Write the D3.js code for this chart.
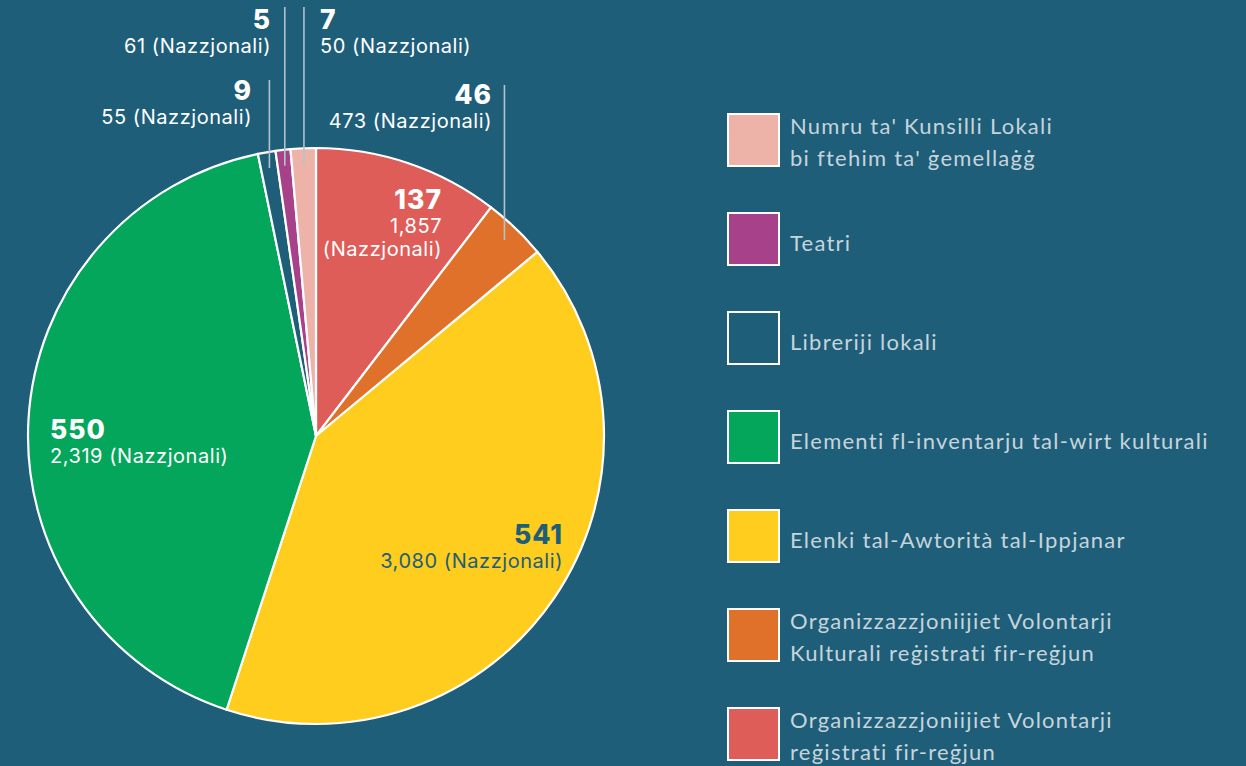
<!DOCTYPE html>
<html>
<head>
<meta charset="utf-8">
<script src="https://cdn.jsdelivr.net/npm/d3@7"></script>
<style>
  html, body { margin: 0; padding: 0; background: #1e5e79; }
  svg { display: block; }
</style>
</head>
<body>
<svg id="chart" width="1246" height="766"></svg>
<script>
// ---- data (pie order, clockwise from 12 o'clock) ----
const categories = [
  "Organizzazzjoniijiet Volontarji reġistrati fir-reġjun",
  "Organizzazzjoniijiet Volontarji Kulturali reġistrati fir-reġjun",
  "Elenki tal-Awtorità tal-Ippjanar",
  "Elementi fl-inventarju tal-wirt kulturali",
  "Libreriji lokali",
  "Teatri",
  "Numru ta' Kunsilli Lokali bi ftehim ta' ġemellaġġ"
];
const regionalValues = [137, 46, 541, 550, 9, 5, 7];
const nationalValues = [1857, 473, 3080, 2319, 55, 61, 50];
// slice sizes as drawn in the reference (tiny categories are enlarged for visibility)
const sliceSizes = [137, 47, 541, 550, 13, 11, 18.6];
const colors = ["#de5d58", "#e0712b", "#fecd1d", "#03a65a", "#1e5e79", "#a7428a", "#edb3a9"];
const legendLines = [
  ["Organizzazzjoniijiet Volontarji", "reġistrati fir-reġjun"],
  ["Organizzazzjoniijiet Volontarji", "Kulturali reġistrati fir-reġjun"],
  ["Elenki tal-Awtorità tal-Ippjanar"],
  ["Elementi fl-inventarju tal-wirt kulturali"],
  ["Libreriji lokali"],
  ["Teatri"],
  ["Numru ta' Kunsilli Lokali", "bi ftehim ta' ġemellaġġ"]
];

// ---- layout (not data) ----
const W = 1246, H = 766;
const cx = 316, cy = 436, R = 288;
const labelLayout = [
  {x: 442, anchor: "end",   y: 209, split: true,  color: "#ffffff"},
  {x: 492, anchor: "end",   y: 104, leaderTop: 85, color: "#ffffff"},
  {x: 563, anchor: "end",   y: 544, color: "#1e5e79"},
  {x: 50,  anchor: "start", y: 439, color: "#ffffff"},
  {x: 252, anchor: "end",   y: 100, leaderTop: 80, color: "#ffffff"},
  {x: 271, anchor: "end",   y: 29,  leaderTop: 7,  color: "#ffffff"},
  {x: 320, anchor: "start", y: 29,  leaderTop: 7,  color: "#ffffff"}
];

const fmt = d3.format(",");
const svg = d3.select("#chart");
svg.append("rect").attr("width", W).attr("height", H).attr("fill", "#1e5e79");

const pie = d3.pie().sort(null).value(d => d)(sliceSizes);
const arc = d3.arc().innerRadius(0).outerRadius(R);

const g = svg.append("g").attr("transform", `translate(${cx},${cy})`);
g.selectAll("path.slice")
  .data(pie)
  .join("path")
  .attr("class", "slice")
  .attr("d", arc)
  .attr("fill", (d, i) => colors[i])
  .attr("stroke", "#ffffff")
  .attr("stroke-width", 2.2)
  .attr("stroke-linejoin", "round");

// leader lines for outside labels
const leaderArc = d3.arc().innerRadius(272).outerRadius(272);
pie.forEach((d, i) => {
  const L = labelLayout[i];
  if (L.leaderTop === undefined) return;
  const [lx, ly] = leaderArc.centroid(d);
  svg.append("line")
    .attr("x1", cx + lx).attr("x2", cx + lx)
    .attr("y1", cy + ly).attr("y2", L.leaderTop)
    .attr("stroke", "#b3c3cc")
    .attr("stroke-width", 1.6);
});

// value labels
const labels = svg.append("g").attr("font-family", "Inter, 'Open Sans', sans-serif");
pie.forEach((d, i) => {
  const L = labelLayout[i];
  const t = labels.append("g").attr("fill", L.color).attr("text-anchor", L.anchor);
  t.append("text")
    .attr("x", L.x).attr("y", L.y)
    .attr("font-size", 26.5).attr("font-weight", 800)
    .attr("letter-spacing", 1)
    .text(regionalValues[i]);
  const small = sel => sel.attr("font-size", 20).attr("letter-spacing", 0.55);
  if (L.split) {
    t.append("text").attr("x", L.x).attr("y", L.y + 24).call(small).text(fmt(nationalValues[i]));
    t.append("text").attr("x", L.x).attr("y", L.y + 47).call(small).text("(Nazzjonali)");
  } else {
    t.append("text").attr("x", L.x).attr("y", L.y + 24).call(small)
      .text(fmt(nationalValues[i]) + " (Nazzjonali)");
  }
});

// legend (reverse of pie order)
const legendOrder = d3.range(categories.length).reverse();
const legend = svg.append("g").attr("font-family", "Lato, sans-serif");
const legendY = d3.scalePoint().domain(legendOrder).range([140, 734]);
legendOrder.forEach(i => {
  const y0 = legendY(i);
  const item = legend.append("g");
  item.append("rect")
    .attr("x", 728).attr("y", y0 - 26)
    .attr("width", 51).attr("height", 52)
    .attr("fill", colors[i])
    .attr("stroke", "#ffffff").attr("stroke-width", 2);
  const lines = legendLines[i];
  const base = lines.length === 1 ? y0 + 12 : y0 - 6;
  lines.forEach((ln, k) => {
    item.append("text")
      .attr("x", 790).attr("y", base + k * 32)
      .attr("font-size", 22)
      .attr("letter-spacing", 1.25)
      .attr("fill", "#c6d4dc")
      .text(ln);
  });
});
</script>
</body>
</html>
